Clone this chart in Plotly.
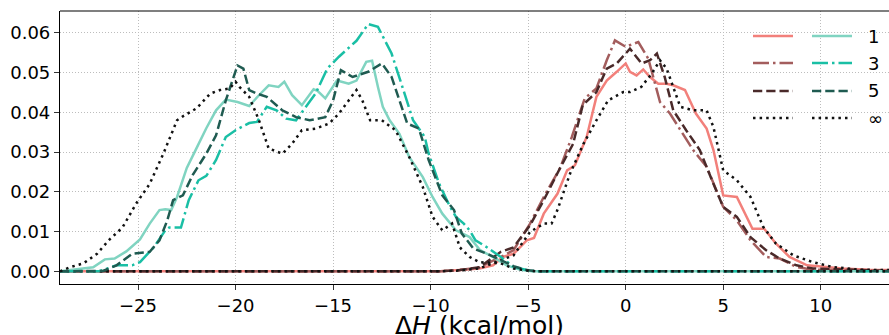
import plotly.graph_objects as go

# ---------------- data ----------------
# Negative-side (teal) distributions
tA1_x = [-29.0, -27.3, -26.7, -26.2, -25.6, -24.9, -24.4, -23.9, -23.6, -23.3, -23.0, -22.5, -22.0, -21.5, -21.0,
         -20.5, -19.9, -19.3, -18.8, -18.3, -17.8, -17.5, -17.1, -16.6, -16.0, -15.8, -15.4, -14.8, -14.2, -13.8,
         -13.3, -13.0, -12.7, -12.45, -12.1, -11.6, -11.1, -10.4, -9.9, -9.4, -8.7, -8.0, -7.46, -6.8, -6.1, -5.4,
         -4.8, 13.5]
tA1_y = [0.0, 0.001, 0.003, 0.0032, 0.005, 0.008, 0.012, 0.0154, 0.0156, 0.0154, 0.0187, 0.026, 0.031, 0.036, 0.0405,
         0.0432, 0.0426, 0.0416, 0.0443, 0.0468, 0.0464, 0.0477, 0.0443, 0.0418, 0.0458, 0.0454, 0.0435, 0.048, 0.0472,
         0.048, 0.0527, 0.053, 0.0464, 0.0414, 0.038, 0.0346, 0.0288, 0.0237, 0.0187, 0.0145, 0.0103, 0.0086, 0.0053,
         0.0036, 0.0015, 0.0004, 0.0, 0.0]

tA3_x = [-29.0, -27.0, -26.1, -25.3, -24.9, -24.2, -23.6, -23.4, -22.8, -22.4, -21.9, -21.5, -21.0, -20.5, -20.0,
         -19.3, -18.9, -18.4, -17.9, -17.4, -16.9, -16.4, -15.9, -15.3, -14.7, -13.8, -13.2, -12.7, -12.0, -11.5,
         -10.9, -10.3, -10.1, -9.56, -9.0, -8.7, -8.3, -8.0, -7.7, -7.1, -6.4, -5.75, -5.07, -4.6, 13.5]
tA3_y = [0.0, 0.0, 0.0015, 0.0015, 0.0023, 0.006, 0.0103, 0.011, 0.011, 0.0179, 0.0229, 0.024, 0.028, 0.0338, 0.0355,
         0.0373, 0.0376, 0.0414, 0.0405, 0.0384, 0.038, 0.0414, 0.0447, 0.051, 0.054, 0.058, 0.0622, 0.0615, 0.0548,
         0.0472, 0.038, 0.0338, 0.0296, 0.022, 0.0162, 0.0137, 0.012, 0.0103, 0.0078, 0.006, 0.0036, 0.0011, 0.0003,
         0.0, 0.0]

tA5_x = [-29.0, -26.8, -26.1, -25.3, -24.4, -23.9, -23.5, -23.2, -22.7, -22.2, -21.5, -21.0, -20.5, -19.9, -19.6,
         -19.3, -18.9, -18.4, -17.6, -16.9, -16.2, -15.4, -15.0, -14.6, -14.0, -13.2, -12.5, -12.0, -11.2, -10.6,
         -10.1, -9.4, -8.8, -8.4, -7.8, -7.1, -6.4, -5.75, -5.07, -4.6, 13.5]
tA5_y = [0.0, 0.0001, 0.0015, 0.0044, 0.0049, 0.0078, 0.0128, 0.0179, 0.0191, 0.0242, 0.0296, 0.0342, 0.043, 0.0518,
         0.051, 0.0456, 0.0447, 0.0439, 0.0405, 0.0388, 0.038, 0.0388, 0.043, 0.0506, 0.0489, 0.0502, 0.0523, 0.0489,
         0.0372, 0.0359, 0.028, 0.0191, 0.0154, 0.0095, 0.0057, 0.0044, 0.0028, 0.0013, 0.0003, 0.0, 0.0]

tAinf_x = [-29.0, -28.5, -27.8, -27.1, -26.5, -25.8, -25.1, -24.4, -23.7, -23.0, -22.7, -22.0, -21.3, -20.8, -20.3,
           -20.0, -19.8, -19.3, -18.8, -18.3, -17.6, -17.1, -16.6, -15.9, -15.2, -14.7, -14.2, -13.8, -13.5, -13.1,
           -12.5, -11.8, -11.1, -10.4, -9.9, -9.4, -8.9, -8.5, -8.0, -7.5, -6.4, -5.75, -5.07, -4.6, 13.5]
tAinf_y = [0.0, 0.001, 0.002, 0.0044, 0.0078, 0.011, 0.017, 0.022, 0.0296, 0.038, 0.039, 0.041, 0.0447, 0.0456,
           0.046, 0.0477, 0.0464, 0.0439, 0.038, 0.0309, 0.0296, 0.0321, 0.0355, 0.0359, 0.0372, 0.0397, 0.043, 0.0456,
           0.043, 0.038, 0.038, 0.0355, 0.0288, 0.0212, 0.0137, 0.0103, 0.012, 0.006, 0.0036, 0.0023, 0.002, 0.0007,
           0.0002, 0.0, 0.0]

# Positive-side (red) distributions
tB1_x = [-29.0, -9.5, -8.5, -7.5, -6.8, -6.3, -5.75, -5.07, -4.7, -4.2, -3.5, -3.0, -2.6, -2.0, -1.5, -0.97, -0.46,
         0.0, 0.22, 0.56, 0.9, 1.25, 1.67, 2.1, 2.44, 3.04, 3.6, 4.15, 4.5, 5.0, 5.7, 6.5, 7.1, 7.7, 8.4, 9.3, 10.3,
         11.1, 12.5, 13.5]
tB1_y = [0.0, 0.0, 0.0003, 0.0007, 0.0015, 0.0036, 0.0044, 0.0078, 0.0084, 0.0145, 0.0195, 0.0254, 0.0267, 0.0338,
         0.0439, 0.048, 0.0502, 0.0523, 0.0502, 0.0493, 0.0508, 0.0489, 0.0472, 0.0472, 0.0468, 0.0456, 0.0397, 0.0359,
         0.0305, 0.0191, 0.0187, 0.0107, 0.0107, 0.007, 0.0036, 0.0015, 0.0011, 0.0007, 0.0004, 0.0003]

tB3_x = [-29.0, -9.5, -8.5, -7.5, -6.4, -5.75, -4.9, -4.2, -3.36, -2.76, -2.1, -1.5, -0.97, -0.55, 0.0, 0.65, 1.16,
         1.76, 2.27, 2.8, 3.46, 4.15, 5.0, 5.7, 6.4, 7.2, 7.9, 8.75, 9.6, 13.5]
tB3_y = [0.0, 0.0, 0.0003, 0.001, 0.0036, 0.0053, 0.012, 0.0187, 0.026, 0.0338, 0.0435, 0.046, 0.0531, 0.0581,
         0.0565, 0.0577, 0.0535, 0.0426, 0.0397, 0.0355, 0.0305, 0.0263, 0.0162, 0.0128, 0.0078, 0.0036, 0.0032,
         0.0011, 0.0004, 0.0001]

tB5_x = [-29.0, -9.5, -8.5, -7.5, -6.4, -5.75, -4.9, -4.2, -3.36, -2.7, -2.2, -1.5, -0.97, -0.46, 0.22, 0.82, 1.25,
         1.6, 2.0, 2.44, 3.1, 3.8, 4.5, 5.0, 5.7, 6.4, 7.2, 7.9, 8.75, 9.6, 13.5]
tB5_y = [0.0, 0.0, 0.0003, 0.001, 0.0049, 0.006, 0.0116, 0.0179, 0.026, 0.032, 0.0418, 0.0451, 0.051, 0.0523, 0.056,
         0.0523, 0.0531, 0.0548, 0.0489, 0.0405, 0.0355, 0.0305, 0.022, 0.0162, 0.0137, 0.0086, 0.0053, 0.0032,
         0.0015, 0.0007, 0.0001]

tBinf_x = [-29.0, -9.5, -8.5, -7.5, -6.4, -5.75, -4.9, -4.2, -3.8, -3.5, -2.85, -2.17, -1.5, -0.9, -0.12, 0.22, 0.8,
           1.33, 1.76, 2.1, 2.8, 3.46, 4.15, 4.5, 5.0, 5.7, 6.4, 7.05, 7.7, 8.6, 9.6, 10.6, 12.0, 13.5]
tBinf_y = [0.0, 0.0, 0.0002, 0.0007, 0.0028, 0.004, 0.0099, 0.012, 0.012, 0.0154, 0.0246, 0.032, 0.038, 0.043,
           0.0451, 0.0451, 0.0464, 0.0497, 0.0531, 0.051, 0.0414, 0.0405, 0.0405, 0.0363, 0.0254, 0.0229, 0.0187,
           0.0112, 0.007, 0.004, 0.0023, 0.0011, 0.0004, 0.0003]

legend_labels = ["1", "3", "5", "\u221e"]
x_ticks = [-25, -20, -15, -10, -5, 0, 5, 10]
y_ticks = [0.00, 0.01, 0.02, 0.03, 0.04, 0.05, 0.06]
x_title = "\u0394<i>H</i> (kcal/mol)"

# ---------------- styles ----------------
LW = 2.5
DASH = {"solid": "solid", "dashdot": "16px,4px,2.5px,4px", "dash": "9.25px,4px", "dot": "2.5px,4.1px"}
red_colors = ["#f2807b", "#a35d5d", "#4a2a2a", "#111111"]
teal_colors = ["#80d4c1", "#1abfa5", "#1f5b51", "#111111"]
styles = ["solid", "dashdot", "dash", "dot"]

red_series = [(tB1_x, tB1_y), (tB3_x, tB3_y), (tB5_x, tB5_y), (tBinf_x, tBinf_y)]
teal_series = [(tA1_x, tA1_y), (tA3_x, tA3_y), (tA5_x, tA5_y), (tAinf_x, tAinf_y)]

fig = go.Figure()
for i, (xs, ys) in enumerate(red_series):
    fig.add_trace(go.Scatter(x=xs, y=ys, mode="lines", showlegend=False,
                             line=dict(color=red_colors[i], width=LW, dash=DASH[styles[i]])))
for i, (xs, ys) in enumerate(teal_series):
    fig.add_trace(go.Scatter(x=xs, y=ys, mode="lines", showlegend=False,
                             line=dict(color=teal_colors[i], width=LW, dash=DASH[styles[i]])))

# ---------------- manual two-column legend ----------------
L, W_PLOT, B, H_PLOT = 60, 829, 284, 273
def px_x(p):
    return (p - L) / W_PLOT
def px_y(p):
    return (B - p) / H_PLOT

row_y = [36, 63, 91, 118]
shapes = []
annotations = []
for i, lab in enumerate(legend_labels):
    yy = px_y(row_y[i])
    for (x0, x1, col) in [(753, 793, red_colors[i]), (812, 852, teal_colors[i])]:
        shapes.append(dict(type="line", xref="paper", yref="paper", x0=px_x(x0), x1=px_x(x1), y0=yy, y1=yy,
                           line=dict(color=col, width=LW, dash=DASH[styles[i]])))
    annotations.append(dict(text=lab, xref="paper", yref="paper", x=px_x(866), y=yy, xanchor="left",
                            yanchor="middle", showarrow=False,
                            font=dict(family="DejaVu Sans", size=18, color="#000000")))

# x-axis title
annotations.append(dict(text=x_title, xref="paper", yref="paper", x=px_x(479), y=px_y(325),
                        xanchor="center", yanchor="middle", showarrow=False,
                        font=dict(family="DejaVu Sans", size=25, color="#000000")))

# top spine
shapes.append(dict(type="line", xref="paper", yref="paper", x0=0, x1=1, y0=1, y1=1,
                   line=dict(color="#000000", width=1.2)))

fig.update_layout(
    width=889, height=335,
    margin=dict(l=60, r=0, t=11, b=51),
    paper_bgcolor="white", plot_bgcolor="white",
    font=dict(family="DejaVu Sans", size=18, color="#000000"),
    shapes=shapes, annotations=annotations,
    xaxis=dict(range=[-29, 13.5], tickvals=x_ticks, ticktext=[f"\u2212{abs(v)}" if v < 0 else str(v) for v in x_ticks],
               showgrid=True, gridcolor="#bdbdbd", griddash="1px,2px", gridwidth=1,
               showline=True, linecolor="#000000", linewidth=1.2,
               ticks="outside", ticklen=5, tickcolor="#333333", zeroline=False),
    yaxis=dict(range=[-0.0032, 0.0655], tickvals=y_ticks, tickformat=".2f",
               showgrid=True, gridcolor="#bdbdbd", griddash="1px,2px", gridwidth=1,
               showline=True, linecolor="#000000", linewidth=1.2,
               ticks="outside", ticklen=5, tickcolor="#333333", zeroline=False),
)

fig.write_html("out.html")
